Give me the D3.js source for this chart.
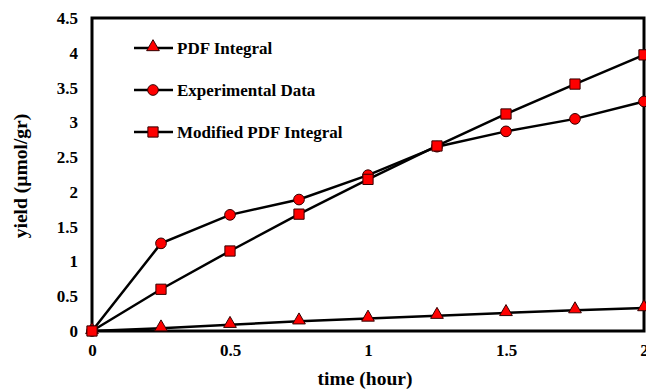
<!DOCTYPE html>
<html><head><meta charset="utf-8">
<script src="https://cdn.jsdelivr.net/npm/d3@7/dist/d3.min.js"></script>
<style>body{margin:0;background:#fff}svg{display:block}text{font-family:"Liberation Serif","Times New Roman",serif;font-weight:bold;fill:#000}</style>
</head><body>
<svg id="c" width="646" height="389"></svg>
<script>
const times = [0, 0.25, 0.5, 0.75, 1, 1.25, 1.5, 1.75, 2];
const pdfIntegral = [0, 0.04, 0.09, 0.14, 0.18, 0.22, 0.26, 0.30, 0.33];
const experimental = [0, 1.26, 1.67, 1.89, 2.24, 2.65, 2.87, 3.05, 3.30];
const modifiedPdf = [0, 0.60, 1.15, 1.68, 2.18, 2.66, 3.12, 3.55, 3.97];
const seriesNames = ["PDF Integral", "Experimental Data", "Modified PDF Integral"];
const xTicks = [0, 0.5, 1, 1.5, 2];
const yTicks = [0, 0.5, 1, 1.5, 2, 2.5, 3, 3.5, 4, 4.5];

const svg = d3.select("#c");
const L = 92, R = 644, T = 18, B = 331;
const x = d3.scaleLinear().domain([0, 2]).range([L, R]);
const y = d3.scaleLinear().domain([0, 4.5]).range([B, T]);

// frame
svg.append("rect").attr("x", L).attr("y", T).attr("width", R - L).attr("height", B - T)
  .attr("fill", "none").attr("stroke", "#000").attr("stroke-width", 3);

// axes (labels only)
const xa = svg.append("g").attr("transform", `translate(0,${B})`)
  .call(d3.axisBottom(x).tickValues(xTicks).tickFormat(d3.format("")).tickSize(0).tickPadding(13));
const ya = svg.append("g").attr("transform", `translate(${L},0)`)
  .call(d3.axisLeft(y).tickValues(yTicks).tickFormat(d3.format("")).tickSize(0).tickPadding(14));
[xa, ya].forEach(a => { a.select(".domain").remove(); a.selectAll("text").attr("font-size", 17).attr("font-family", null).style("font-family", '"Liberation Serif",serif').style("font-weight", "bold"); });

svg.append("text").attr("x", 365).attr("y", 385).attr("text-anchor", "middle").attr("font-size", 19.5).text("time (hour)");
svg.append("text").attr("transform", "translate(27,176) rotate(-90)").attr("text-anchor", "middle").attr("font-size", 19.5).text("yield (µmol/gr)");

const line = d3.line().x((d, i) => x(times[i])).y(d => y(d));
const all = [pdfIntegral, experimental, modifiedPdf];
const symbols = [d3.symbolTriangle, d3.symbolCircle, d3.symbolSquare];
const sizes = [70, 90, 105];

all.forEach((vals, k) => {
  svg.append("path").datum(vals).attr("d", line).attr("fill", "none").attr("stroke", "#000").attr("stroke-width", 2.5);
});
all.forEach((vals, k) => {
  svg.append("g").selectAll("path").data(vals).join("path")
    .attr("transform", (d, i) => `translate(${x(times[i])},${y(d) + (k === 0 ? -1 : 0)})`)
    .attr("d", d3.symbol().type(symbols[k]).size(sizes[k]))
    .attr("fill", "#ff0000").attr("stroke", "#330000").attr("stroke-width", 1);
});

// legend
const legY = [48, 90, 132];
seriesNames.forEach((name, k) => {
  const g = svg.append("g");
  g.append("line").attr("x1", 134).attr("x2", 173).attr("y1", legY[k]).attr("y2", legY[k]).attr("stroke", "#000").attr("stroke-width", 2.5);
  g.append("path").attr("transform", `translate(153,${legY[k] + (k === 0 ? -1 : 0)})`)
    .attr("d", d3.symbol().type(symbols[k]).size(sizes[k]))
    .attr("fill", "#ff0000").attr("stroke", "#330000").attr("stroke-width", 1);
  g.append("text").attr("x", 177).attr("y", legY[k] + 6).attr("font-size", 17).text(name);
});
</script>
</body></html>
